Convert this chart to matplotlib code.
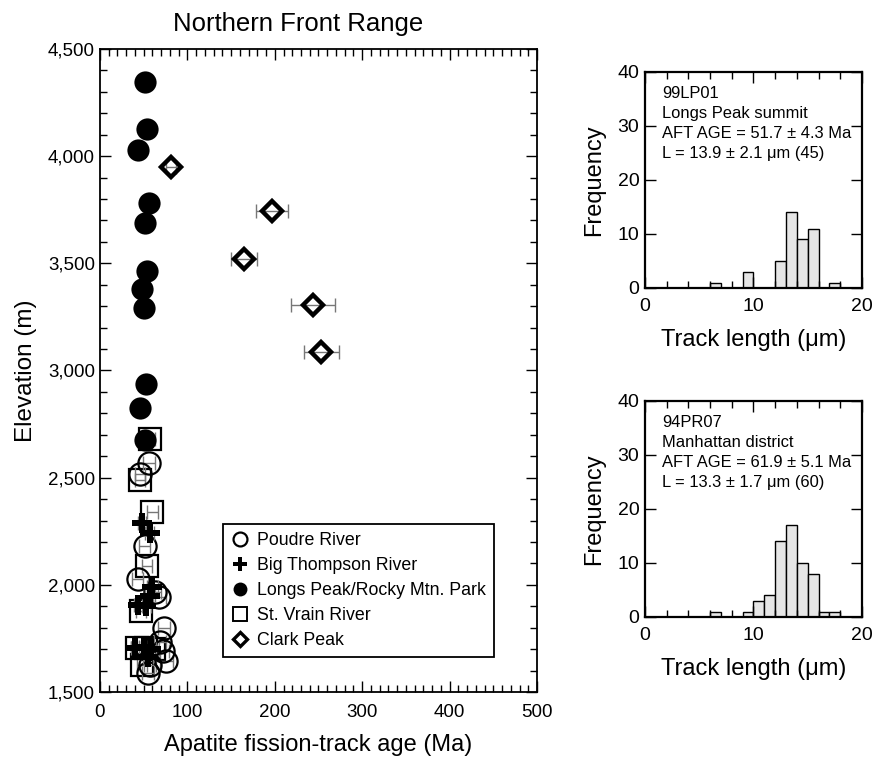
import matplotlib
matplotlib.use("Agg")
import matplotlib.pyplot as plt
import numpy as np
from matplotlib.lines import Line2D
from matplotlib.ticker import MultipleLocator, StrMethodFormatter

plt.rcParams["font.family"] = ["Liberation Sans", "DejaVu Sans"]

# --- AFT age vs elevation, Northern Front Range ---
# Poudre River (open circles)
poudre_age = [56, 46, 51, 43, 63, 68, 73, 69, 72, 76, 55, 57]
poudre_elev = [2570, 2515, 2180, 2025, 1965, 1945, 1800, 1735, 1690, 1645, 1590, 1625]
poudre_err = [7, 6, 6, 6, 7, 7, 7, 7, 7, 7, 7, 7]

# Big Thompson River (filled plus)
thompson_age = [48, 57, 60, 57, 44, 53, 40, 50, 58, 55]
thompson_elev = [2290, 2240, 1990, 1950, 1905, 1900, 1705, 1710, 1700, 1665]
thompson_err = [5, 5, 6, 6, 5, 5, 5, 5, 6, 6]

# Longs Peak / Rocky Mtn. Park (filled circles)
longs_age = [51, 54, 44, 56, 52, 54, 48, 50, 53, 46, 51]
longs_elev = [4345, 4125, 4030, 3780, 3690, 3465, 3380, 3290, 2935, 2825, 2675]
longs_err = [4, 4, 4, 4, 4, 4, 4, 4, 4, 4, 4]

# St. Vrain River (open squares)
vrain_age = [57, 46, 60, 54, 47, 42, 53, 48, 62]
vrain_elev = [2680, 2490, 2340, 2090, 1880, 1705, 1705, 1625, 1700]
vrain_err = [6, 6, 6, 6, 6, 6, 6, 6, 6]

# Clark Peak (diamonds)
clark_age = [81, 197, 165, 244, 253]
clark_elev = [3950, 3745, 3520, 3305, 3085]
clark_err = [6, 18, 15, 25, 20]

# --- track length histograms (1 um bins, 0-20 um) ---
bin_left = np.arange(0, 20)
lp01_counts = [0, 0, 0, 0, 0, 0, 1, 0, 0, 3, 0, 0, 5, 14, 9, 11, 0, 1, 0, 0]
pr07_counts = [0, 0, 0, 0, 0, 0, 1, 0, 0, 1, 3, 4, 14, 17, 10, 8, 1, 1, 0, 0]
lp01_text = "99LP01\nLongs Peak summit\nAFT AGE = 51.7 ± 4.3 Ma\nL = 13.9 ± 2.1 μm (45)"
pr07_text = "94PR07\nManhattan district\nAFT AGE = 61.9 ± 5.1 Ma\nL = 13.3 ± 1.7 μm (60)"


def plot_group(ax, age, elev, err, z, **mk):
    ax.errorbar(age, elev, xerr=err, fmt="none", ecolor="#777777",
                elinewidth=1, capsize=5, capthick=1, zorder=z - 0.5)
    ax.plot(age, elev, linestyle="none", zorder=z, **mk)


def style_main(ax):
    ax.set_xlim(0, 500)
    ax.set_ylim(1500, 4500)
    ax.xaxis.set_major_locator(MultipleLocator(100))
    ax.xaxis.set_minor_locator(MultipleLocator(10))
    ax.yaxis.set_major_locator(MultipleLocator(500))
    ax.yaxis.set_minor_locator(MultipleLocator(100))
    ax.yaxis.set_major_formatter(StrMethodFormatter("{x:,.0f}"))
    ax.tick_params(which="both", direction="in", top=True, right=True,
                   labelsize=13.5, width=1)
    ax.tick_params(which="major", length=8)
    ax.tick_params(which="minor", length=5)
    ax.tick_params(axis="x", which="major", pad=9)
    for s in ax.spines.values():
        s.set_linewidth(1.3)
    ax.set_xlabel("Apatite fission-track age (Ma)", fontsize=17, labelpad=9)
    ax.set_ylabel("Elevation (m)", fontsize=17.5, labelpad=8)


def plot_hist(ax, counts, text):
    ax.bar(bin_left, counts, width=1, align="edge", color="#e6e6e6",
           edgecolor="black", linewidth=1)
    ax.set_xlim(0, 20)
    ax.set_ylim(0, 40)
    ax.set_xticks([0, 10, 20])
    ax.xaxis.set_minor_locator(MultipleLocator(2))
    ax.set_yticks([0, 10, 20, 30, 40])
    ax.tick_params(which="both", direction="in", top=True, right=True,
                   labelsize=14, width=1)
    ax.tick_params(which="major", length=8, pad=4)
    ax.tick_params(which="minor", length=5)
    ax.tick_params(axis="x", which="major", pad=7)
    for s in ax.spines.values():
        s.set_linewidth(1.6)
    ax.set_xlabel("Track length (μm)", fontsize=17, labelpad=10)
    ax.set_ylabel("Frequency", fontsize=17, labelpad=9)
    ax.text(0.078, 0.935, text, transform=ax.transAxes, ha="left", va="top",
            fontsize=11.9, linespacing=1.42)


fig = plt.figure(figsize=(8.73, 7.59), dpi=100)
ax = fig.add_axes([0.1145, 0.0883, 0.5006, 0.8472])

plot_group(ax, vrain_age, vrain_elev, vrain_err, 3, marker="s", ms=15.5,
           mfc="none", mec="black", mew=1.6)
plot_group(ax, poudre_age, poudre_elev, poudre_err, 4, marker="o", ms=16,
           mfc="none", mec="black", mew=1.6)
plot_group(ax, thompson_age, thompson_elev, thompson_err, 5, marker="P",
           ms=15, mfc="black", mec="black", mew=0)
plot_group(ax, longs_age, longs_elev, longs_err, 6, marker="o", ms=16,
           mfc="black", mec="black", mew=0)
plot_group(ax, clark_age, clark_elev, clark_err, 7, marker="D", ms=10.5,
           mfc="none", mec="black", mew=3.2)
style_main(ax)

handles = [
    Line2D([], [], ls="none", marker="o", ms=10, mfc="none", mec="black", mew=1.6),
    Line2D([], [], ls="none", marker="P", ms=10, mfc="black", mec="black", mew=0),
    Line2D([], [], ls="none", marker="o", ms=10, mfc="black", mec="black", mew=0),
    Line2D([], [], ls="none", marker="s", ms=10, mfc="none", mec="black", mew=1.4),
    Line2D([], [], ls="none", marker="D", ms=7, mfc="none", mec="black", mew=2.4),
]
labels = ["Poudre River", "Big Thompson River", "Longs Peak/Rocky Mtn. Park",
          "St. Vrain River", "Clark Peak"]
leg = ax.legend(handles, labels, loc="lower left", bbox_to_anchor=(0.281, 0.054),
                fontsize=12.8, frameon=True, fancybox=False, framealpha=1,
                edgecolor="black", handlelength=1.0, handletextpad=0.5,
                labelspacing=0.45, borderpad=0.45, borderaxespad=0)
leg.get_frame().set_linewidth(1.3)

fig.text(0.341, 0.969, "Northern Front Range", ha="center", va="center",
         fontsize=18.5)

ax1 = fig.add_axes([0.7388, 0.6206, 0.2486, 0.2846])
plot_hist(ax1, lp01_counts, lp01_text)
ax2 = fig.add_axes([0.7388, 0.1871, 0.2486, 0.2846])
plot_hist(ax2, pr07_counts, pr07_text)

fig.savefig("out.png", dpi=100)
